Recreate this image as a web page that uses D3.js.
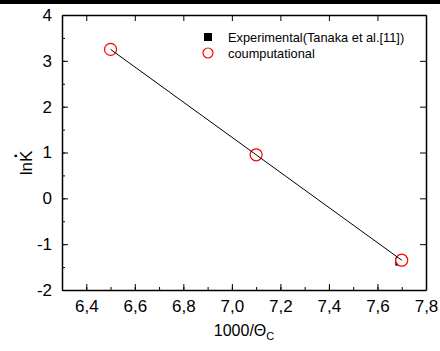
<!DOCTYPE html>
<html>
<head>
<meta charset="utf-8">
<script src="https://cdn.jsdelivr.net/npm/d3@7"></script>
<style>
  body { margin: 0; background: #fff; }
  svg text { font-family: "Liberation Sans", Arial, sans-serif; }
</style>
</head>
<body>
<script>
const invTemp = [6.5, 7.1, 7.7];
const expX = [6.5, 7.1, 7.69];
const experimental = [3.25, 0.95, -1.38];
const computational = [3.25, 0.95, -1.35];
const xTicks = [6.4, 6.6, 6.8, 7.0, 7.2, 7.4, 7.6, 7.8];
const yTicks = [-2, -1, 0, 1, 2, 3, 4];
const legendLabels = ['Experimental(Tanaka et al.[11])', 'coumputational'];

const W = 440, H = 351;
const margin = {top: 15, right: 14, bottom: 61, left: 62};
const width = W - margin.left - margin.right,
    height = H - margin.top - margin.bottom;

const x = d3.scaleLinear().domain([6.3, 7.8]).range([0, width]);
const y = d3.scaleLinear().domain([-2, 4]).range([height, 0]);

const svg = d3.select('body').append('svg')
    .attr('width', W)
    .attr('height', H);

// dark strip along the top edge
svg.append('rect').attr('x', 0).attr('y', 0).attr('width', W).attr('height', 4).attr('fill', '#000');

const g = svg.append('g').attr('transform', `translate(${margin.left},${margin.top})`);

const fmt = d => d3.format('.1f')(d).replace('.', ',');
const minorX = d3.range(6.3, 7.85, 0.1).map(v => +v.toFixed(1));
const minorY = d3.range(-2, 4.01, 0.5);

// bottom axis
const bottom = g.append('g').attr('transform', `translate(0,${height})`)
    .call(d3.axisBottom(x).tickValues(xTicks).tickFormat(fmt).tickSizeInner(-6).tickSizeOuter(0).tickPadding(10));
bottom.selectAll('.tick text').attr('font-size', 17);
g.append('g').attr('transform', `translate(0,${height})`)
    .call(d3.axisBottom(x).tickValues(minorX).tickFormat('').tickSizeInner(-3).tickSizeOuter(0))
    .select('.domain').remove();

// left axis
const left = g.append('g')
    .call(d3.axisLeft(y).tickValues(yTicks).tickFormat(d3.format('d')).tickSizeInner(-6).tickSizeOuter(0).tickPadding(10));
left.selectAll('.tick text').attr('font-size', 17).text(d => d < 0 ? '-' + Math.abs(d) : d);
g.append('g')
    .call(d3.axisLeft(y).tickValues(minorY).tickFormat('').tickSizeInner(-3).tickSizeOuter(0))
    .select('.domain').remove();

// mirrored top / right
g.append('g')
    .call(d3.axisTop(x).tickValues(xTicks).tickFormat('').tickSizeInner(-6).tickSizeOuter(0));
g.append('g').attr('transform', `translate(${width},0)`)
    .call(d3.axisRight(y).tickValues(yTicks).tickFormat('').tickSizeInner(-6).tickSizeOuter(0));

g.selectAll('.domain').attr('stroke', '#000').attr('stroke-width', 1.5);
g.selectAll('.tick line').attr('stroke', '#000');

// markers (squares behind white-filled circles)
g.selectAll('.sq').data(experimental).enter().append('rect')
    .attr('x', (d, i) => x(expX[i]) - 4)
    .attr('y', d => y(d) - 4)
    .attr('width', 8).attr('height', 8).attr('fill', '#000');
g.selectAll('.ci').data(computational).enter().append('circle')
    .attr('cx', (d, i) => x(invTemp[i]))
    .attr('cy', d => y(d))
    .attr('r', 6).attr('fill', '#fff').attr('stroke', '#f00').attr('stroke-width', 1.2);

// fit line
const line = d3.line().x((d, i) => x(invTemp[i])).y(d => y(d));
g.append('path').datum(computational)
    .attr('d', line).attr('fill', 'none').attr('stroke', '#000').attr('stroke-width', 1);

// legend
const legend = svg.append('g').attr('transform', 'translate(208,37)');
legend.append('rect').attr('x', -4).attr('y', -4).attr('width', 8).attr('height', 8).attr('fill', '#000');
legend.append('circle').attr('cx', 0).attr('cy', 16).attr('r', 5).attr('fill', 'none').attr('stroke', '#f00').attr('stroke-width', 1.2);
legend.selectAll('text').data(legendLabels).enter().append('text')
    .attr('x', 20).attr('y', (d, i) => i * 16 + 4.5)
    .attr('font-size', 12.8).text(d => d);

// axis titles
const xt = svg.append('text').attr('x', margin.left + width / 2).attr('y', 336)
    .attr('text-anchor', 'middle').attr('font-size', 16);
xt.append('tspan').text('1000/Θ');
xt.append('tspan').attr('font-size', 11).attr('dy', 4).text('C');

svg.append('text').attr('transform', 'translate(32,163) rotate(-90)')
    .attr('text-anchor', 'middle').attr('font-size', 17).text('lnK');
// dot accent over the K
svg.append('text').attr('transform', 'translate(17,156) rotate(-90)')
    .attr('text-anchor', 'middle').attr('font-size', 17).attr('font-weight', 'bold').text('.');
</script>
</body>
</html>
